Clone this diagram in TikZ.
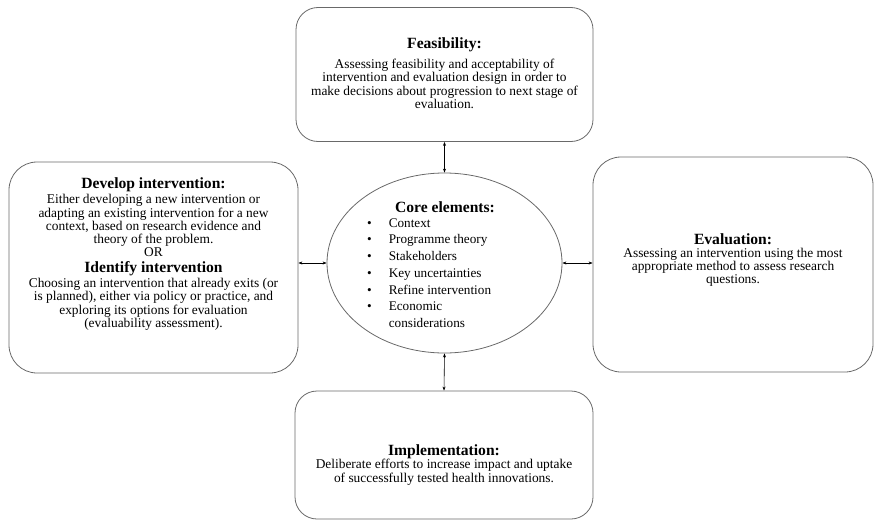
\documentclass[tikz,border=0pt]{standalone}
\usepackage{fontspec}
\setmainfont{Liberation Serif}
\usetikzlibrary{arrows.meta,shapes.geometric}
\definecolor{edgegray}{RGB}{105,105,105}
\newcommand{\bodyfont}{\fontsize{13.4}{13.3}\selectfont}
\newcommand{\headfont}{\fontsize{15.6}{16}\selectfont\bfseries}

\begin{document}
\begin{tikzpicture}[x=1pt, y=-1pt,
  stage/.style={draw=edgegray, line width=0.8pt, rounded corners=22pt, inner sep=0pt},
  stagetext/.style={align=center, font=\bodyfont, inner sep=0pt},
  link/.style={black, line width=0.6pt, {Stealth[length=4pt,width=3pt]}-{Stealth[length=4pt,width=3pt]}}]
  \useasboundingbox (0,0) rectangle (875,522);
  % boxes
  \node[stage, minimum width=297pt, minimum height=134pt] (feas) at (444.5,74.5) {};
  \node[stage, minimum width=289pt, minimum height=211pt, rounded corners=28pt] (develop) at (153.5,267.5) {};
  \node[stage, minimum width=280pt, minimum height=215pt, rounded corners=28pt] (eval) at (733,264.5) {};
  \node[stage, minimum width=298pt, minimum height=128pt] (impl) at (444,455) {};
  \node[ellipse, draw=edgegray, line width=0.8pt, minimum width=235pt, minimum height=180pt] (core) at (444.5,263) {};
  % texts
  \node[stagetext] (feastext) at (444.5,73) {{\headfont Feasibility:}\\[7pt]
    Assessing feasibility and acceptability of\\
    intervention and evaluation design in order to\\
    make decisions about progression to next stage of\\
    evaluation.};
  \node[stagetext] (developtext) at (153.5,254) {{\headfont Develop intervention:}\\[2pt]
    Either developing a new intervention or\\
    adapting an existing intervention for a new\\
    context, based on research evidence and\\
    theory of the problem.\\
    OR\\[2pt]
    {\headfont Identify intervention}\\[2pt]
    Choosing an intervention that already exits (or\\
    is planned), either via policy or practice, and\\
    exploring its options for evaluation\\
    (evaluability assessment).};
  \node[stagetext] (evaltext) at (733,260) {{\headfont Evaluation:}\\
    Assessing an intervention using the most\\
    appropriate method to assess research\\
    questions.};
  \node[stagetext] (impltext) at (444,465) {{\headfont Implementation:}\\
    Deliberate efforts to increase impact and uptake\\
    of successfully tested health innovations.};
  \node[inner sep=0pt, font=\headfont] (coretitle) at (445,207) {Core elements:};
  \node[inner sep=0pt, anchor=west, font=\fontsize{13.2}{16.7}\selectfont] (corelist) at (367,274) {%
    \begin{tabular}{@{}l@{\hspace{17pt}}l@{}}
      \textbullet & Context\\
      \textbullet & Programme theory\\
      \textbullet & Stakeholders\\
      \textbullet & Key uncertainties\\
      \textbullet & Refine intervention\\
      \textbullet & Economic\\
                  & considerations
    \end{tabular}};
  % connectors
  \draw[link] (feas.south) -- (core.north);
  \draw[link] (core.south) -- (impl.north);
  \draw[link] (core.west -| develop.east) -- (core.west);
  \draw[link] (core.east) -- (core.east -| eval.west);
\end{tikzpicture}
\end{document}
